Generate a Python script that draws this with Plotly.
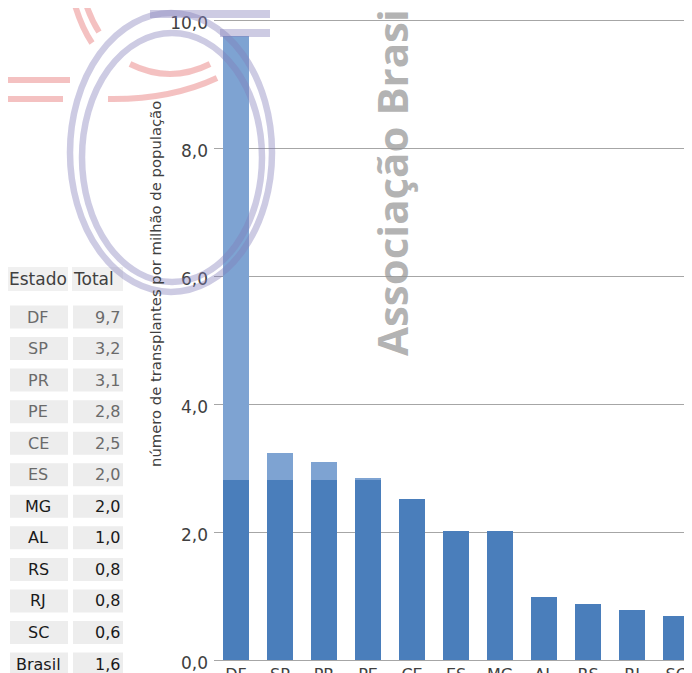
import plotly.graph_objects as go

# ---------------- data ----------------
categories = ["DF", "SP", "PR", "PE", "CE", "ES", "MG", "AL", "RS", "RJ", "SC"]
base_values = [2.82, 2.82, 2.82, 2.82, 2.51, 2.02, 2.02, 0.99, 0.87, 0.78, 0.68]
extra_values = [6.93, 0.42, 0.27, 0.03, 0.0, 0.0, 0.0, 0.0, 0.0, 0.0, 0.0]

y_tick_values = [0, 2, 4, 6, 8, 10]
y_tick_labels = ["0,0", "2,0", "4,0", "6,0", "8,0", "10,0"]

table_states = ["DF", "SP", "PR", "PE", "CE", "ES", "MG", "AL", "RS", "RJ", "SC", "Brasil"]
table_totals = ["9,7", "3,2", "3,1", "2,8", "2,5", "2,0", "2,0", "1,0", "0,8", "0,8", "0,6", "1,6"]

y_title = "número de transplantes por milhão de população"
watermark = "Associação Brasil"

# ---------------- geometry ----------------
# The page body has an 8px default margin: figure pixel = window pixel - OFF
OFF = 8
W, H = 692 - OFF, 673 - OFF
ML, MR, MT = 214 - OFF, 0, 0
PLOT_BOTTOM = 660 - OFF
MB = H - PLOT_BOTTOM
PW, PH = W - ML - MR, PLOT_BOTTOM - MT


def px(x):
    """window pixel x -> paper x"""
    return (x - OFF - ML) / PW


def py(y):
    """window pixel y -> paper y"""
    return (PLOT_BOTTOM - (y - OFF)) / PH


FONT = "DejaVu Sans"
WM_FONT = "Open Sans"

fig = go.Figure()
fig.add_trace(go.Bar(x=categories, y=base_values, marker=dict(color="#4a7ebb", line=dict(width=0)),
                     showlegend=False, hoverinfo="skip"))
fig.add_trace(go.Bar(x=categories, y=extra_values, marker=dict(color="#7ea3d2", line=dict(width=0)),
                     showlegend=False, hoverinfo="skip"))

shapes = []
annotations = []

# ---- table on the left ----
row_y0 = 317
row_step = 31.55
header_y = 279
shapes.append(dict(type="rect", xref="paper", yref="paper", x0=px(6), x1=px(68), y0=py(header_y - 12), y1=py(header_y + 12),
                   fillcolor="#f0f0f0", line=dict(width=0), layer="below"))
shapes.append(dict(type="rect", xref="paper", yref="paper", x0=px(72), x1=px(123), y0=py(header_y - 12), y1=py(header_y + 12),
                   fillcolor="#f0f0f0", line=dict(width=0), layer="below"))
annotations.append(dict(text="Estado", xref="paper", yref="paper", x=px(7), y=py(header_y), xanchor="left", yanchor="middle",
                        showarrow=False, font=dict(family=FONT, size=17, color="#404040")))
annotations.append(dict(text="Total", xref="paper", yref="paper", x=px(71), y=py(header_y), xanchor="left", yanchor="middle",
                        showarrow=False, font=dict(family=FONT, size=17, color="#404040")))
for i, (s, t) in enumerate(zip(table_states, table_totals)):
    yc = row_y0 + i * row_step
    col = "#6a6a6a" if i < 6 else "#1a1a1a"
    shapes.append(dict(type="rect", xref="paper", yref="paper", x0=px(10), x1=px(68), y0=py(yc - 11.5), y1=py(yc + 11.5),
                       fillcolor="#ededed", line=dict(width=0), layer="below"))
    shapes.append(dict(type="rect", xref="paper", yref="paper", x0=px(73), x1=px(123), y0=py(yc - 11.5), y1=py(yc + 11.5),
                       fillcolor="#ededed", line=dict(width=0), layer="below"))
    annotations.append(dict(text=s, xref="paper", yref="paper", x=px(38), y=py(yc), xanchor="center", yanchor="middle",
                            showarrow=False, font=dict(family=FONT, size=16, color=col)))
    annotations.append(dict(text=t, xref="paper", yref="paper", x=px(122), y=py(yc), xanchor="right", yanchor="middle",
                            showarrow=False, font=dict(family=FONT, size=16, color=col)))

# ---- y axis title ----
annotations.append(dict(text=y_title, xref="paper", yref="paper", x=px(155), y=py(284), xanchor="center", yanchor="middle",
                        textangle=-90, showarrow=False, font=dict(family=FONT, size=14.8, color="#404040")))

# ---- watermark text ----
annotations.append(dict(text="<b>" + watermark + "</b>", xref="paper", yref="paper", x=px(391), y=py(358),
                        xanchor="center", yanchor="bottom", textangle=-90, showarrow=False,
                        font=dict(family=WM_FONT, size=42, color="rgba(150,150,150,0.72)")))

# ---- watermark logo (pink strokes) ----
pink = "rgba(238,160,160,0.65)"


def path_px(points, curve=False):
    if curve:
        (x0, y0), (cx, cy), (x1, y1) = points
        return f"M {px(x0)},{py(y0)} Q {px(cx)},{py(cy)} {px(x1)},{py(y1)}"
    return "M " + " L ".join(f"{px(x)},{py(y)}" for x, y in points)


for pts, curve in [
    ([(73, -2), (80, 25), (92, 43)], True),
    ([(84, -2), (90, 18), (99, 32)], True),
    ([(0, 80), (70, 80)], False),
    ([(0, 99), (63, 99)], False),
    ([(130, 64), (170, 84), (210, 64)], True),
    ([(108, 99), (170, 100), (217, 78)], True),
]:
    shapes.append(dict(type="path", xref="paper", yref="paper", path=path_px(pts, curve),
                       line=dict(color=pink, width=6), layer="above"))

# ---- watermark logo (lavender rings) ----
lav = "rgba(130,125,185,0.40)"
shapes.append(dict(type="circle", xref="paper", yref="paper", x0=px(70), x1=px(272), y0=py(292), y1=py(13),
                   line=dict(color=lav, width=6.5), layer="above"))
shapes.append(dict(type="circle", xref="paper", yref="paper", x0=px(82), x1=px(262), y0=py(282), y1=py(33),
                   line=dict(color=lav, width=6.5), layer="above"))
shapes.append(dict(type="path", xref="paper", yref="paper", path=path_px([(150, 14), (270, 14)]),
                   line=dict(color=lav, width=8), layer="above"))
shapes.append(dict(type="path", xref="paper", yref="paper", path=path_px([(220, 33), (270, 33)]),
                   line=dict(color=lav, width=8), layer="above"))

fig.update_layout(
    width=W, height=H,
    margin=dict(l=ML, r=MR, t=MT, b=MB, autoexpand=False),
    paper_bgcolor="white", plot_bgcolor="white",
    barmode="stack", bargap=0.41,
    shapes=shapes, annotations=annotations,
    showlegend=False,
    font=dict(family=FONT, color="#404040"),
)
fig.update_yaxes(range=[0, PH / 64.0], tickvals=y_tick_values, ticktext=y_tick_labels, automargin=False,
                 showgrid=True, gridcolor="#a6a6a6", gridwidth=1, zeroline=False, showline=False,
                 ticks="", tickfont=dict(family=FONT, size=17, color="#404040"),
                 ticklabelstandoff=5, ticklabelshift=3, ticklabeloverflow="allow")
fig.update_xaxes(range=[-0.5, 10.36], showline=True, linecolor="#a6a6a6", linewidth=1, ticks="", automargin=False,
                 tickfont=dict(family=FONT, size=16, color="#404040"), showgrid=False,
                 ticklabeloverflow="allow")

fig.write_html("out.html")
